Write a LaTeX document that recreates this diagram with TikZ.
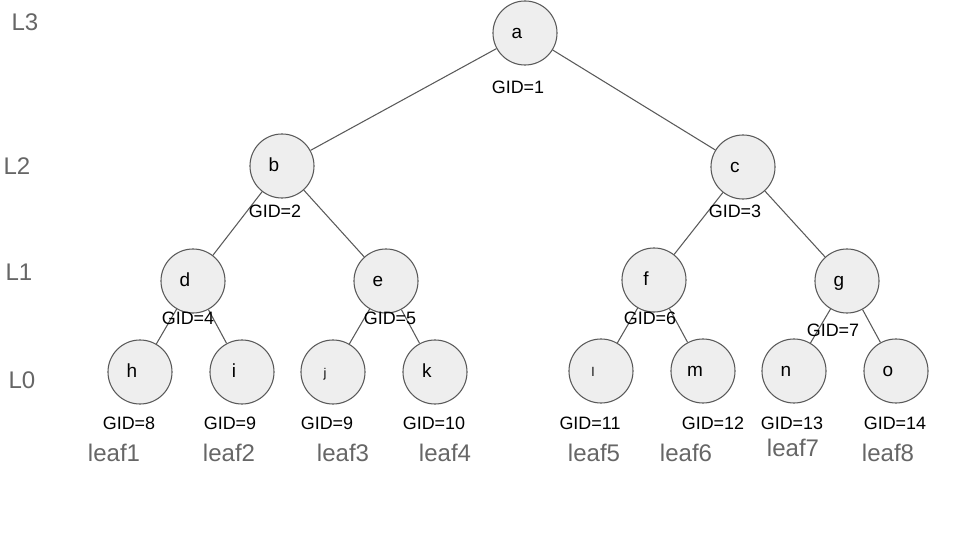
\documentclass[tikz,border=0pt]{standalone}
\usepackage{fontspec}
\setmainfont{Liberation Sans}
\usepackage{xcolor}
\usepackage{tikz}
\usetikzlibrary{positioning}

\definecolor{nodefill}{HTML}{EEEEEE}
\definecolor{linegray}{HTML}{595959}
\definecolor{textgray}{HTML}{666666}

\begin{document}
\begin{tikzpicture}[x=0.016667cm, y=-0.016667cm,
  vertex/.style={circle, draw=linegray, fill=nodefill, line width=0.5pt, minimum size=1.067cm, inner sep=0pt,
    text height=6pt, text depth=1.2pt, font=\fontsize{9}{10}\selectfont,
    execute at begin node={\hspace*{-7.6pt}}},
  small/.style={font=\fontsize{6}{7}\selectfont},
  gid/.style={inner sep=0pt, font=\fontsize{8.5}{10}\selectfont},
  leaf/.style={inner sep=0pt, text=textgray, font=\fontsize{11.4}{13}\selectfont},
  level/.style={inner sep=0pt, text=textgray, font=\fontsize{11.4}{13}\selectfont},
  edge/.style={draw=linegray, line width=0.5pt}]

\useasboundingbox (0,0) rectangle (960,540);

% Level labels
\node[level] (L3) at (25,22) {L3};
\node[level] (L2) at (17,166) {L2};
\node[level] (L1) at (19,272) {L1};
\node[level] (L0) at (22,380) {L0};

% Nodes
\node[vertex] (a) at (525,33) {a};
\node[vertex] (b) at (282,166) {b};
\node[vertex] (c) at (743,167) {c};
\node[vertex] (d) at (193,281) {d};
\node[vertex] (e) at (386,281) {e};
\node[vertex] (f) at (654,280) {f};
\node[vertex] (g) at (847,281) {g};
\node[vertex] (h) at (140,372) {h};
\node[vertex] (i) at (242,372) {i};
\node[vertex, small] (j) at (333,372) {j};
\node[vertex] (k) at (435,372) {k};
\node[vertex, small] (l) at (601,371) {l};
\node[vertex] (m) at (703,371) {m};
\node[vertex] (n) at (794,371) {n};
\node[vertex] (o) at (896,371) {o};

% Edges
\draw[edge] (a) -- (b);
\draw[edge] (a) -- (c);
\draw[edge] (b) -- (d);
\draw[edge] (b) -- (e);
\draw[edge] (c) -- (f);
\draw[edge] (c) -- (g);
\draw[edge] (d) -- (h);
\draw[edge] (d) -- (i);
\draw[edge] (e) -- (j);
\draw[edge] (e) -- (k);
\draw[edge] (f) -- (l);
\draw[edge] (f) -- (m);
\draw[edge] (g) -- (n);
\draw[edge] (g) -- (o);

% GID labels
\node[gid] (gida) at (518,87) {GID=1};
\node[gid] (gidb) at (275,211) {GID=2};
\node[gid] (gidc) at (735,211) {GID=3};
\node[gid] (gidd) at (188,318) {GID=4};
\node[gid] (gide) at (390,318) {GID=5};
\node[gid] (gidf) at (650,318) {GID=6};
\node[gid] (gidg) at (833,330) {GID=7};
\node[gid] (gidh) at (129,423) {GID=8};
\node[gid] (gidi) at (230,423) {GID=9};
\node[gid] (gidj) at (327,423) {GID=9};
\node[gid] (gidk) at (434,423) {GID=10};
\node[gid] (gidl) at (590,423) {GID=11};
\node[gid] (gidm) at (713,423) {GID=12};
\node[gid] (gidn) at (792,423) {GID=13};
\node[gid] (gido) at (895,423) {GID=14};

% Leaf names
\node[leaf] (leaf1) at (114,453) {leaf1};
\node[leaf] (leaf2) at (229,453) {leaf2};
\node[leaf] (leaf3) at (343,453) {leaf3};
\node[leaf] (leaf4) at (445,453) {leaf4};
\node[leaf] (leaf5) at (594,453) {leaf5};
\node[leaf] (leaf6) at (686,453) {leaf6};
\node[leaf] (leaf7) at (793,448) {leaf7};
\node[leaf] (leaf8) at (888,453) {leaf8};

\end{tikzpicture}
\end{document}
